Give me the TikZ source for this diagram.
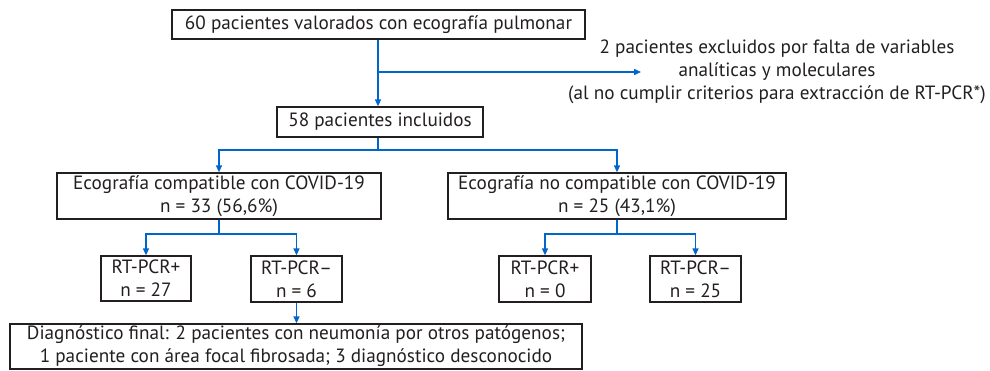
\documentclass[tikz,border=0pt]{standalone}
\usepackage{fontspec}
\setmainfont{PT Sans}
\usetikzlibrary{arrows.meta,calc}
\definecolor{arrblue}{RGB}{0,102,204}
\definecolor{ink}{RGB}{35,31,32}
\begin{document}
\begin{tikzpicture}[x=1pt,y=-1pt,
  box/.style={draw=ink,line width=1.3pt,text=ink,align=center,inner sep=0pt,
    font=\fontsize{19.2}{23}\selectfont},
  arr/.style={draw=arrblue,line width=1.5pt,-{Triangle[length=7pt,width=6pt]}},
  ln/.style={draw=arrblue,line width=1.5pt}]
\useasboundingbox (0,0) rectangle (990,371);
\node[box,minimum width=413pt,minimum height=29pt] (b1) at (378.5,24.5) {60 pacientes valorados con ecografía pulmonar};
\node[box,minimum width=206pt,minimum height=30pt] (b2) at (380,122) {58 pacientes incluidos};
\node[box,minimum width=324pt,minimum height=46pt] (b3) at (219,196) {Ecografía compatible con COVID-19\\n = 33 (56,6\%)};
\node[box,minimum width=338pt,minimum height=46pt] (b4) at (617,196) {Ecografía no compatible con COVID-19\\n = 25 (43,1\%)};
\node[box,minimum width=90pt,minimum height=45pt] (b5) at (146,278.5) {RT-PCR+\\n = 27};
\node[box,minimum width=91pt,minimum height=46pt] (b6) at (296.5,279) {RT-PCR–\\n = 6};
\node[box,minimum width=572pt,minimum height=45pt] (b7) at (296,346.5) {Diagnóstico final: 2 pacientes con neumonía por otros patógenos;\\1 paciente con área focal fibrosada; 3 diagnóstico desconocido};
\node[box,minimum width=92pt,minimum height=46pt] (b8) at (545,279) {RT-PCR+\\n = 0};
\node[box,minimum width=91pt,minimum height=46pt] (b9) at (695.5,279) {RT-PCR–\\n = 25};
\node[box,draw=none] (ex) at (777,72) {2 pacientes excluidos por falta de variables\\analíticas y moleculares\\(al no cumplir criterios para extracción de RT-PCR*)};
% connectors
\coordinate (j1) at (378,72);
\coordinate (exend) at (641,72);
\draw[arr] (b1.south -| j1) -- (b2.north -| j1);
\draw[arr] (j1) -- (exend);
\coordinate (j2) at (378,150);
\draw[ln] (b2.south -| j2) -- (j2);
\draw[arr] (j2) -| (b3.north);
\draw[arr] (j2) -| (b4.north);
\coordinate (j3) at (219,234);
\draw[ln] (b3.south) -- (j3);
\draw[arr] (j3) -| (b5.north);
\draw[arr] (j3) -| (b6.north);
\draw[arr] (b6.south) -- (b6.south |- b7.north);
\coordinate (j4) at (617,234);
\draw[ln] (b4.south) -- (j4);
\draw[arr] (j4) -| (b8.north);
\draw[arr] (j4) -| (b9.north);
\end{tikzpicture}
\end{document}
